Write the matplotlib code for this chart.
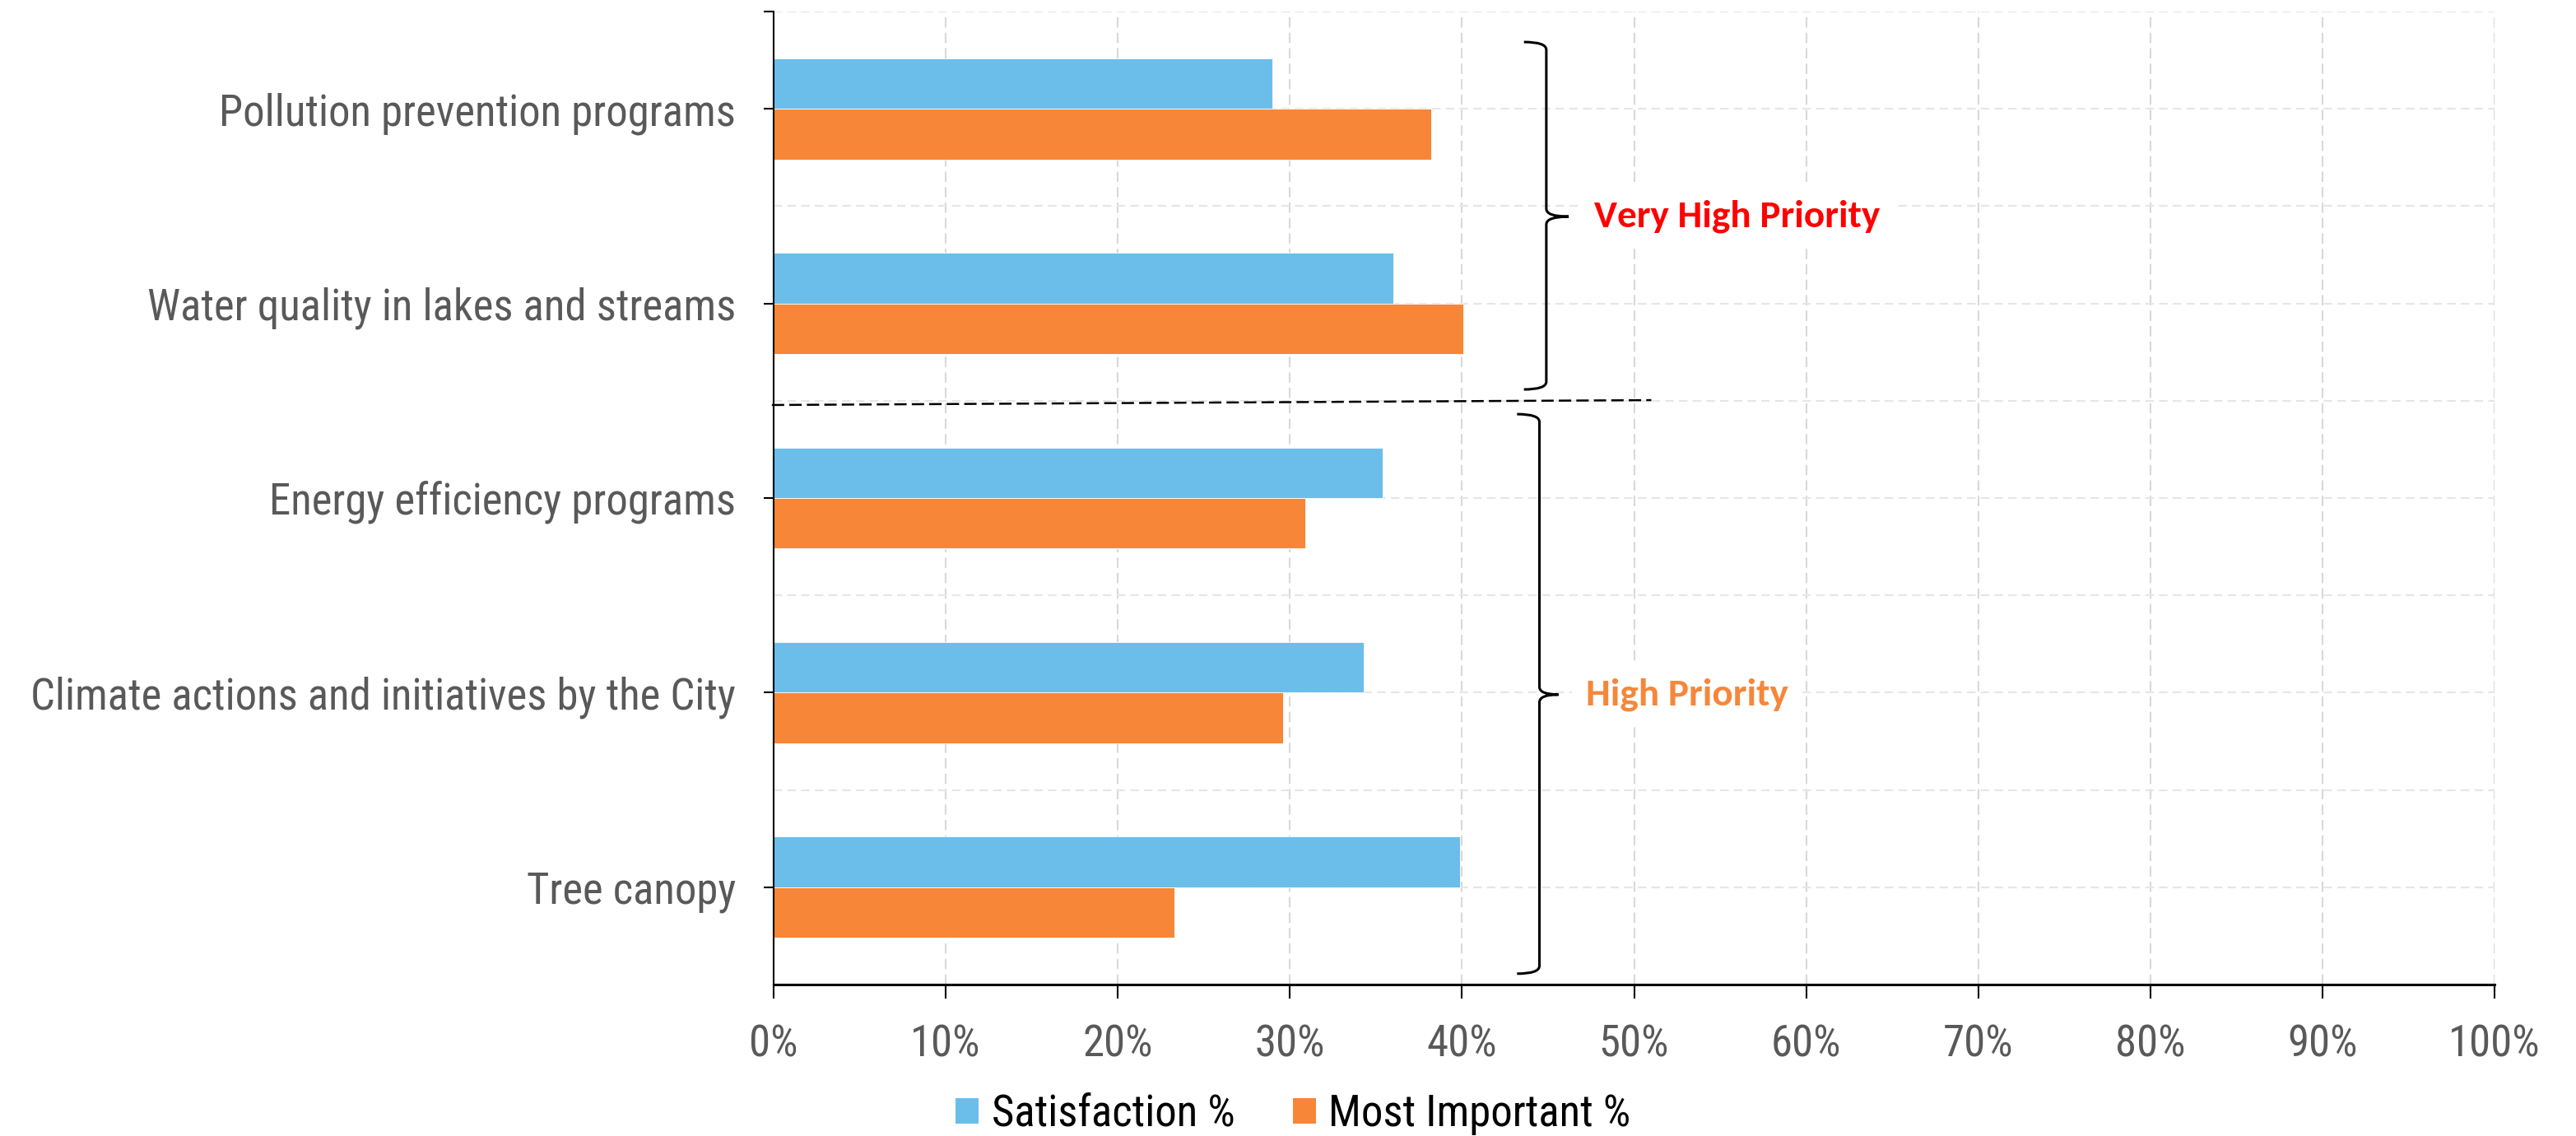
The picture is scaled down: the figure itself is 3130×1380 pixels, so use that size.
import matplotlib
matplotlib.use("Agg")
import matplotlib.pyplot as plt
from matplotlib import font_manager
from matplotlib.patches import Patch, PathPatch
from matplotlib.path import Path
from matplotlib.ticker import FixedLocator, FuncFormatter

# data
categories = [
    "Pollution prevention programs",
    "Water quality in lakes and streams",
    "Energy efficiency programs",
    "Climate actions and initiatives by the City",
    "Tree canopy",
]
satisfaction = [29.0, 36.0, 35.4, 34.3, 39.9]
most_important = [38.2, 40.1, 30.9, 29.6, 23.3]
x_ticks = [0, 10, 20, 30, 40, 50, 60, 70, 80, 90, 100]
series_names = ["Satisfaction %", "Most Important %"]
group_labels = ["Very High Priority", "High Priority"]

BLUE = "#6BBEEA"
ORANGE = "#F88638"

installed = {f.name for f in font_manager.fontManager.ttflist}


def pick(options):
    for name, size in options:
        if name in installed:
            return name, size
    return options[-1]


# narrow sans for the axis text, calibri-like bold for the group labels
label_font, label_size = pick([("Roboto Condensed", 38), ("Archivo Narrow", 38),
                               ("Liberation Sans", 33)])
bold_font, bold_size = pick([("Carlito", 34), ("Lato", 29), ("Liberation Sans", 29)])
plt.rcParams["font.family"] = [label_font, "DejaVu Sans"]

fig = plt.figure(figsize=(31.3, 13.8), dpi=100)
ax = fig.add_axes([0.3003, 0.1333, 0.9684 - 0.3003, 0.9899 - 0.1333])

y = list(range(len(categories)))
bar_h = 0.26
ax.barh([v - bar_h / 2 for v in y], satisfaction, height=bar_h, color=BLUE,
        edgecolor="white", linewidth=0.6, zorder=3)
ax.barh([v + bar_h / 2 for v in y], most_important, height=bar_h, color=ORANGE,
        edgecolor="white", linewidth=0.6, zorder=3)

ax.set_xlim(0, 100)
ax.set_ylim(len(categories) - 0.5, -0.5)

# gridlines
for xv in x_ticks[1:]:
    ax.axvline(xv, color="#D9D9D9", lw=1.5, ls=(0, (6, 3)), zorder=1)
for k in range(2 * len(categories)):
    ax.axhline(-0.5 + k * 0.5, color="#E6E6E6", lw=1.5, ls=(0, (5, 3)), zorder=1)

ax.set_yticks(y)
ax.set_yticklabels(categories)
ax.yaxis.set_minor_locator(FixedLocator([-0.5]))
ax.tick_params(axis="y", which="both", length=9, width=1.5, color="black",
               pad=24, labelsize=label_size, labelcolor="#595959")
ax.set_xticks(x_ticks)
ax.xaxis.set_major_formatter(FuncFormatter(lambda v, p: f"{v:.0f}%"))
ax.tick_params(axis="x", length=12, width=1.5, color="black", pad=22,
               labelsize=label_size, labelcolor="#595959")

for s in ["top", "right"]:
    ax.spines[s].set_visible(False)
ax.spines["left"].set_linewidth(1.5)
ax.spines["bottom"].set_linewidth(2.2)
ax.spines["left"].set_zorder(4)
ax.spines["bottom"].set_zorder(4)

# separator between the two priority groups
ax.plot([-0.1, 51.0], [1.522, 1.497], color="black", lw=1.8,
        ls=(0, (6, 2.5)), clip_on=False, zorder=5)


def brace(x_end, x_line, x_tip, y_top, y_mid, y_bot):
    ry = 0.04
    verts = [
        (x_end, y_top), (x_line, y_top), (x_line, y_top + ry),
        (x_line, y_mid - ry), (x_line, y_mid), (x_tip, y_mid),
        (x_tip, y_mid), (x_line, y_mid), (x_line, y_mid + ry),
        (x_line, y_bot - ry), (x_line, y_bot), (x_end, y_bot),
    ]
    codes = [
        Path.MOVETO, Path.CURVE3, Path.CURVE3,
        Path.LINETO, Path.CURVE3, Path.CURVE3,
        Path.MOVETO, Path.CURVE3, Path.CURVE3,
        Path.LINETO, Path.CURVE3, Path.CURVE3,
    ]
    ax.add_patch(PathPatch(Path(verts, codes), fill=False, edgecolor="black",
                           lw=2.2, zorder=5, clip_on=False))


brace(43.6, 44.9, 46.2, -0.343, 0.554, 1.442)
brace(43.2, 44.5, 45.6, 1.569, 3.01, 4.444)

box = dict(facecolor="white", edgecolor="none", pad=12)
ax.text(47.7, 0.554, group_labels[0], color="#FF0000", fontsize=bold_size,
        fontweight="bold", family=[bold_font, "DejaVu Sans"],
        va="center", ha="left", bbox=box, zorder=4)
ax.text(47.2, 3.01, group_labels[1], color="#F5873B", fontsize=bold_size,
        fontweight="bold", family=[bold_font, "DejaVu Sans"],
        va="center", ha="left", bbox=box, zorder=4)

handles = [Patch(facecolor=BLUE, edgecolor="none"),
           Patch(facecolor=ORANGE, edgecolor="none")]
fig.legend(handles, series_names, loc="center", bbox_to_anchor=(0.502, 0.019),
           ncol=2, frameon=False, fontsize=label_size, handlelength=0.53,
           handleheight=0.53, handletextpad=0.3, columnspacing=1.33)

fig.savefig("out.png", dpi=100)
